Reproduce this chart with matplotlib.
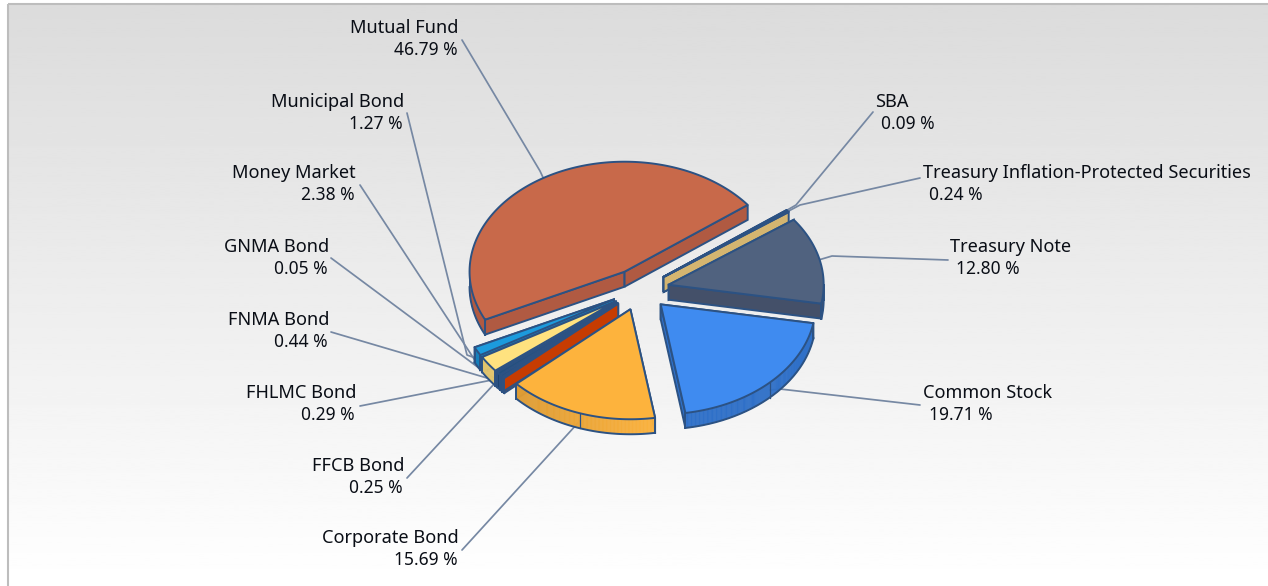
import numpy as np
import matplotlib
matplotlib.use("Agg")
import matplotlib.pyplot as plt
from matplotlib.patches import Polygon, Rectangle

# Portfolio allocation, clockwise from the upper right of the pie
categories = ["SBA", "Treasury Inflation-Protected Securities", "Treasury Note",
              "Common Stock", "Corporate Bond", "FFCB Bond", "FHLMC Bond",
              "FNMA Bond", "GNMA Bond", "Money Market", "Municipal Bond", "Mutual Fund"]
values = [0.09, 0.24, 12.80, 19.71, 15.69, 0.25, 0.29, 0.44, 0.05, 2.38, 1.27, 46.79]
value_labels = ["0.09 %", "0.24 %", "12.80 %", "19.71 %", "15.69 %", "0.25 %",
                "0.29 %", "0.44 %", "0.05 %", "2.38 %", "1.27 %", "46.79 %"]

top_colors = ["#1F4E85", "#D9B872", "#50627F", "#3F8BF0", "#FDB33D", "#C63C02",
              "#1D4A80", "#24507F", "#D9C070", "#FFE27F", "#1C9BDD", "#C8694A"]
rim_left = ["#1A4274", "#D4B570", "#445069", "#2F70C8", "#DE9C34", "#C63C02",
            "#183E6C", "#1E4470", "#BFA862", "#E2C46C", "#1580BC", "#B05A42"]
rim_right = ["#1A4274", "#D4B570", "#445069", "#2F70C8", "#FBB23E", "#C63C02",
             "#183E6C", "#1E4470", "#BFA862", "#E2C46C", "#1580BC", "#B05A42"]

# Label anchors and leader elbows, in figure pixels
name_xy = {"SBA": (875, 102), "Treasury Inflation-Protected Securities": (923, 173),
           "Treasury Note": (950, 247), "Common Stock": (923, 393),
           "Corporate Bond": (459, 538), "FFCB Bond": (404, 466), "FHLMC Bond": (356, 393),
           "FNMA Bond": (329, 320), "GNMA Bond": (329, 247), "Money Market": (356, 173),
           "Municipal Bond": (404, 102), "Mutual Fund": (459, 28)}
leader_path = {"SBA": [(873, 112), (796, 205)],
               "Treasury Inflation-Protected Securities": [(920, 178), (800, 205)],
               "Treasury Note": [(948, 260), (832, 256)],
               "Common Stock": [(920, 405), (780, 389)],
               "Corporate Bond": [(462, 550), (577, 424)],
               "FFCB Bond": [(407, 478), (495, 383)],
               "FHLMC Bond": [(360, 406), (492, 380)],
               "FNMA Bond": [(331, 332), (487, 378)],
               "GNMA Bond": [(331, 258), (487, 374)],
               "Money Market": [(360, 185), (480, 368)],
               "Municipal Bond": [(407, 113), (467, 355)],
               "Mutual Fund": [(462, 40), (540, 171)]}

CENTER = (640.0, 289.5)
RX, RY = 155.0, 110.0
EXPLODE = 0.19
DEPTH = 15.0
START_DEG = -37.4
EDGE = "#2C5283"
LEADER = "#7688A3"
TEXT = "#0A0E16"
NAME_SIZE = 13.1
VALUE_SIZE = 12.5
FONT = "Noto Sans"

fig = plt.figure(figsize=(12.68, 5.86), dpi=100, facecolor="white")
ax = fig.add_axes([0, 0, 1, 1])
ax.set_xlim(0, 1268)
ax.set_ylim(586, 0)
ax.axis("off")

# Panel with a light vertical gradient
gradient = np.linspace(0.86, 1.0, 256).reshape(-1, 1)
ax.imshow(gradient, cmap="gray", vmin=0, vmax=1, extent=(8, 1268, 586, 4),
          aspect="auto", zorder=0)
ax.set_xlim(0, 1268)
ax.set_ylim(586, 0)
ax.add_patch(Rectangle((8, 4), 1262, 590, fill=False, ec="#BDBDBD", lw=1.5, zorder=1))

shares = np.array(values) / sum(values) * 360.0
ends = START_DEG + np.cumsum(shares)
starts = ends - shares


def rim(apex, deg):
    t = np.radians(deg)
    return np.column_stack((apex[0] + RX * np.cos(t), apex[1] + RY * np.sin(t)))


def apex_of(mid):
    t = np.radians(mid)
    return (CENTER[0] + EXPLODE * RX * np.cos(t), CENTER[1] + EXPLODE * RY * np.sin(t))


# Leaders and labels sit beneath the pie
label_style = dict(va="center", color=TEXT, zorder=3, family=FONT)
for i, name in enumerate(categories):
    mid = (starts[i] + ends[i]) / 2
    apex = apex_of(mid)
    end = rim(apex, np.array([mid]))[0]
    drop = DEPTH / 2 if np.sin(np.radians(mid)) > 0 else 0
    path = leader_path[name] + [(end[0], end[1] + drop)]
    ax.plot(*zip(*path), color=LEADER, lw=1.25, zorder=2, solid_capstyle="round")
    x, y = name_xy[name]
    if x > 640:
        ax.text(x, y, name, ha="left", fontsize=NAME_SIZE, **label_style)
        ax.text(x + 6, y + 22, value_labels[i], ha="left", fontsize=VALUE_SIZE, **label_style)
    else:
        ax.text(x, y, name, ha="right", fontsize=NAME_SIZE, **label_style)
        ax.text(x - 1, y + 22, value_labels[i], ha="right", fontsize=VALUE_SIZE, **label_style)

# Slices painted from the back of the pie to the front
paint_order = [11, 0, 1, 2, 10, 9, 8, 7, 6, 5, 4, 3]
z = 4.0
for i in paint_order:
    mid = (starts[i] + ends[i]) / 2
    apex = apex_of(mid)
    arc_deg = np.linspace(starts[i], ends[i], max(3, int(shares[i] * 2)))
    arc = rim(apex, arc_deg)
    lw = 1.4

    # Radial walls
    for p in (arc[0], arc[-1]):
        wall = [apex, p, (p[0], p[1] + DEPTH), (apex[0], apex[1] + DEPTH)]
        ax.add_patch(Polygon(wall, closed=True, fc=rim_left[i], ec=EDGE, lw=lw, zorder=z))
    z += 0.01

    # Outer wall, only where the rim faces the viewer
    front = arc_deg[np.sin(np.radians(arc_deg)) > 0]
    if front.size > 1:
        pts = rim(apex, front)
        span = (pts[:, 0].min(), pts[:, 0].max())
        c0 = np.array(matplotlib.colors.to_rgb(rim_left[i]))
        c1 = np.array(matplotlib.colors.to_rgb(rim_right[i]))
        for a, b in zip(pts[:-1], pts[1:]):
            f = ((a[0] + b[0]) / 2 - span[0]) / max(span[1] - span[0], 1)
            seg = [a, b, (b[0], b[1] + DEPTH), (a[0], a[1] + DEPTH)]
            col = c0 + (c1 - c0) * f
            ax.add_patch(Polygon(seg, closed=True, fc=col, ec=col, lw=0.4, zorder=z))
        ax.plot(pts[:, 0], pts[:, 1] + DEPTH, color=EDGE, lw=lw, zorder=z + 0.001)
        ax.plot([pts[0, 0]] * 2, [pts[0, 1], pts[0, 1] + DEPTH], color=EDGE, lw=lw, zorder=z + 0.001)
        ax.plot([pts[-1, 0]] * 2, [pts[-1, 1], pts[-1, 1] + DEPTH], color=EDGE, lw=lw, zorder=z + 0.001)
        if np.sin(np.radians(mid)) > 0 and shares[i] > 20:
            m = rim(apex, np.array([mid]))[0]
            ax.plot([m[0]] * 2, [m[1], m[1] + DEPTH], color=EDGE, lw=0.9, zorder=z + 0.001)
    z += 0.01

    # Top face
    top = np.vstack(([apex], arc))
    ax.add_patch(Polygon(top, closed=True, fc=top_colors[i], ec=EDGE, lw=lw, zorder=z, joinstyle="round"))
    z += 0.01

fig.savefig("out.png", dpi=100, facecolor="white")
